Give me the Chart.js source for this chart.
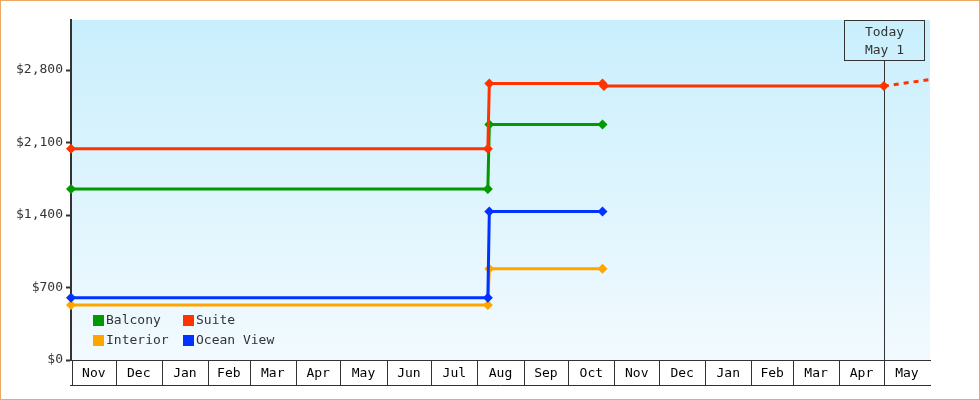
<!DOCTYPE html>
<html>
<head>
<meta charset="utf-8">
<script src="https://cdn.jsdelivr.net/npm/chart.js@4.4.1/dist/chart.umd.min.js"></script>
<style>
  html, body { margin: 0; padding: 0; background: #fff; }
  #wrap { width: 980px; height: 400px; position: relative; }
</style>
</head>
<body>
<div id="wrap"><canvas id="priceChart"></canvas></div>
<script>
// axis range and labels
const axisStart = "2017-11-01";
const axisEnd = "2019-06-01";
const monthLabels = ["Nov", "Dec", "Jan", "Feb", "Mar", "Apr", "May", "Jun", "Jul", "Aug",
                     "Sep", "Oct", "Nov", "Dec", "Jan", "Feb", "Mar", "Apr", "May"];
const yTicks = [0, 700, 1400, 2100, 2800];
const yMax = 3283;

// price history
const stepDates = ["2017-11-01", "2018-08-08", "2018-08-09", "2018-10-24"];
const balconyPrices = [1650, 1650, 2275, 2275];
const interiorPrices = [530, 530, 882, 882];
const oceanViewPrices = [600, 600, 1435, 1435];
const suiteDates = ["2017-11-01", "2018-08-08", "2018-08-09", "2018-10-24", "2018-10-25", "2019-05-01"];
const suitePrices = [2040, 2040, 2670, 2670, 2645, 2645];
const projectionDates = ["2019-05-01", "2019-06-01"];
const projectionPrices = [2645, 2708];

const todayDate = "2019-05-01";
const todayLabel = ["Today", "May 1"];

const FONT = "'DejaVu Sans Mono', 'Liberation Mono', monospace";
const INK = "#333333";

function dayNum(s) {
    const p = s.split("-").map(Number);
    return Date.UTC(p[0], p[1] - 1, p[2]) / 86400000;
}

function toPoints(dates, prices) {
    return dates.map((d, i) => ({ x: dayNum(d), y: prices[i] }));
}

function lineSet(label, color, dates, prices, order) {
    return {
        label: label,
        data: toPoints(dates, prices),
        borderColor: color,
        backgroundColor: color,
        borderWidth: 3,
        pointStyle: "rectRot",
        pointRadius: 5,
        pointBorderWidth: 0,
        pointBackgroundColor: color,
        tension: 0,
        order: order,
        clip: false,
    };
}

const pageDecor = {
    id: "pageDecor",
    beforeDraw(chart) {
        const ctx = chart.ctx;
        const a = chart.chartArea;
        ctx.save();
        ctx.fillStyle = "#ffffff";
        ctx.fillRect(0, 0, chart.width, chart.height);
        const g = ctx.createLinearGradient(0, a.top, 0, a.bottom);
        g.addColorStop(0, "#c9effc");
        g.addColorStop(1, "#f2faff");
        ctx.fillStyle = g;
        ctx.fillRect(a.left, a.top, a.right - a.left, a.bottom - a.top);
        ctx.restore();
    },
    beforeDatasetsDraw(chart) {
        // today marker line + box
        const ctx = chart.ctx;
        const a = chart.chartArea;
        const x = Math.round(chart.scales.x.getPixelForValue(dayNum(todayDate))) + 0.5;
        ctx.save();
        ctx.strokeStyle = INK;
        ctx.lineWidth = 1;
        const boxW = 80, boxH = 40;
        ctx.beginPath();
        ctx.moveTo(x, a.top + boxH);
        ctx.lineTo(x, a.bottom + 25);
        ctx.stroke();
        ctx.strokeRect(x - boxW / 2, a.top + 0.5, boxW, boxH);
        ctx.fillStyle = INK;
        ctx.font = "13px " + FONT;
        ctx.textAlign = "center";
        ctx.textBaseline = "middle";
        ctx.fillText(todayLabel[0], x, a.top + 13);
        ctx.fillText(todayLabel[1], x, a.top + 31);
        ctx.restore();
    },
    afterDraw(chart) {
        const ctx = chart.ctx;
        const a = chart.chartArea;
        const xs = chart.scales.x;
        ctx.save();
        // month cells under the axis
        ctx.strokeStyle = INK;
        ctx.lineWidth = 1;
        ctx.fillStyle = "#000";
        ctx.font = "13px " + FONT;
        ctx.textAlign = "center";
        ctx.textBaseline = "middle";
        const start = axisStart.split("-").map(Number);
        const cellTop = a.bottom, cellBottom = a.bottom + 25;
        for (let i = 0; i < monthLabels.length; i++) {
            const d0 = Date.UTC(start[0], start[1] - 1 + i, 1) / 86400000;
            const d1 = Date.UTC(start[0], start[1] + i, 1) / 86400000;
            const x0 = xs.getPixelForValue(d0) + (i === 0 ? 1 : 0);
            const x1 = xs.getPixelForValue(d1);
            const xl = Math.round(x0) + 0.5;
            ctx.beginPath();
            ctx.moveTo(xl, cellTop);
            ctx.lineTo(xl, cellBottom);
            ctx.stroke();
            ctx.fillText(monthLabels[i], (x0 + x1) / 2, (cellTop + cellBottom) / 2 + 1);
        }
        ctx.beginPath();
        ctx.moveTo(a.left - 1, cellBottom + 0.5);
        ctx.lineTo(a.right + 1, cellBottom + 0.5);
        ctx.stroke();

        // legend inside the plot, two columns
        const items = chart.data.datasets.filter(ds => ds.label);
        ctx.textAlign = "left";
        items.forEach((ds, i) => {
            const col = i % 2, row = Math.floor(i / 2);
            const lx = a.left + 22 + col * 90;
            const ly = a.bottom - 40 + row * 20;
            ctx.fillStyle = ds.borderColor;
            ctx.fillRect(lx, ly - 5, 11, 11);
            ctx.fillStyle = INK;
            ctx.fillText(ds.label, lx + 13, ly + 1);
        });

        // outer frame
        ctx.strokeStyle = "#e9a965";
        ctx.lineWidth = 1;
        ctx.strokeRect(0.5, 0.5, chart.width - 1, chart.height - 1);
        ctx.restore();
    },
};

Chart.defaults.font.family = FONT;
Chart.defaults.font.size = 13;
Chart.defaults.color = INK;

const chart = new Chart(document.getElementById("priceChart").getContext("2d"), {
    type: "line",
    data: {
        datasets: [
            lineSet("Balcony", "#009900", stepDates, balconyPrices, 3),
            lineSet("Suite", "#ff3300", suiteDates, suitePrices, 1),
            lineSet("Interior", "#ffa500", stepDates, interiorPrices, 4),
            lineSet("Ocean View", "#0033ff", stepDates, oceanViewPrices, 2),
            {
                label: "",
                data: toPoints(projectionDates, projectionPrices),
                borderColor: "#ff3300",
                borderWidth: 3,
                borderDash: [5, 5],
                pointRadius: 0,
                order: 5,
                clip: false,
            },
        ],
    },
    options: {
        responsive: true,
        maintainAspectRatio: false,
        animation: false,
        layout: { padding: { top: 20, right: 50, bottom: 0, left: 0 } },
        plugins: { legend: { display: false }, tooltip: { enabled: false } },
        scales: {
            x: {
                type: "linear",
                min: dayNum(axisStart),
                max: dayNum(axisEnd),
                ticks: { display: false },
                grid: { display: false },
                border: { display: true, color: INK, width: 1 },
                afterFit: (scale) => { scale.height = 40; },
            },
            y: {
                min: 0,
                max: yMax,
                ticks: {
                    padding: 3,
                    color: INK,
                    autoSkip: false,
                    callback: (v) => "$" + Number(v).toLocaleString("en-US"),
                },
                afterBuildTicks: (scale) => {
                    scale.ticks = yTicks.map(v => ({ value: v }));
                },
                grid: {
                    drawOnChartArea: false,
                    drawTicks: true,
                    tickLength: 5,
                    tickColor: INK,
                    tickWidth: 2,
                },
                border: { display: true, color: INK, width: 2 },
                afterFit: (scale) => { scale.width = 71; },
            },
        },
    },
    plugins: [pageDecor],
});
</script>
</body>
</html>
